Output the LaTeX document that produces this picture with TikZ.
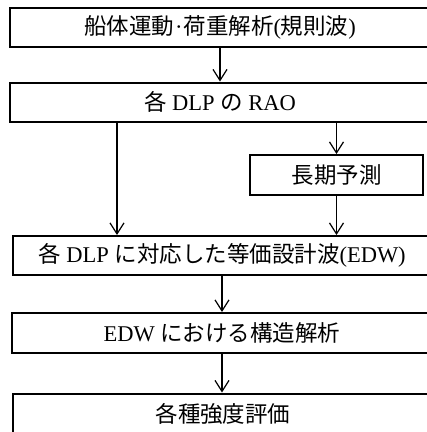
\documentclass[tikz,border=0pt]{standalone}
\usepackage{fontspec}
\setmainfont{Liberation Serif}
\newfontfamily\cjk{Noto Sans CJK JP}
\usetikzlibrary{arrows.meta}
\newcommand{\J}[1]{{\cjk #1}}
\begin{document}
\begin{tikzpicture}[x=1pt,y=-1pt,
  box/.style={draw, line width=2pt, inner sep=0pt, minimum height=39pt,
    font=\fontsize{22.5}{26}\selectfont},
  arr/.style={line width=1.2pt, -{Straight Barb[length=11pt,width=14pt,line width=1.2pt]}}]
\clip (0,0) rectangle (427,432);
\fill[white] (0,0) rectangle (427,432);
\node[box, minimum width=420pt] (b1) at (220,27.5) {\J{船体運動}\kern1pt·\kern1pt\J{荷重解析}(\J{規則波})};
\node[box, minimum width=420pt] (b2) at (220,102) {\J{各} DLP \J{の} RAO};
\node[box, minimum width=173pt, minimum height=40pt] (b3) at (336.5,175) {\J{長期予測}};
\node[box, minimum width=418pt] (b4) at (222,255.5) {\J{各} DLP \J{に対応した等価設計波}(EDW)};
\node[box, minimum width=420pt, minimum height=40pt] (b5) at (222,333) {EDW \J{における構造解析}};
\node[box, minimum width=420pt, minimum height=40pt] (b6) at (223,413.5) {\J{各種強度評価}};
\coordinate (lx) at (117,0);
\draw[arr] (b1.south) -- (b2.north);
\draw[arr] (b2.south -| lx) -- (b4.north -| lx);
\draw[arr] (b2.south -| b3.north) -- (b3.north);
\draw[arr] (b3.south) -- (b4.north -| b3.south);
\draw[arr] (b4.south) -- (b5.north);
\draw[arr] (b5.south) -- (b6.north -| b5.south);
\end{tikzpicture}
\end{document}
